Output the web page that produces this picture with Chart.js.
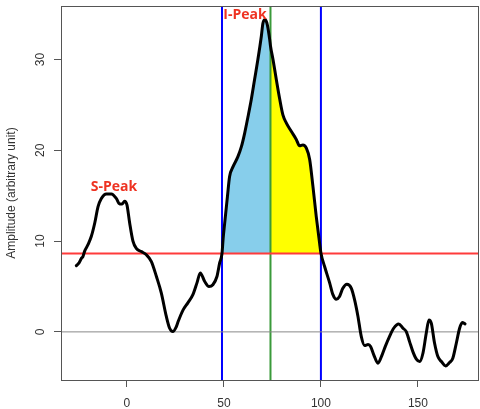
<!DOCTYPE html>
<html>
<head>
<meta charset="utf-8">
<script src="https://cdn.jsdelivr.net/npm/chart.js@4/dist/chart.umd.min.js"></script>
<style>
  html, body { margin: 0; padding: 0; background: #fff; }
  #wrap { width: 480px; height: 409px; }
</style>
</head>
<body>
<div id="wrap"><canvas id="chart" width="480" height="409"></canvas></div>
<script>
// signal trace
const curveX = [
  -26.1, -24.7, -23.5, -22.7, -21.8, -20.1, -18.4, -16.6, -14.9, -13.2,
  -10.6, -8.0, -5.5, -3.8, -2.4, -1.2, 0.0, 1.4, 3.1, 4.8,
  7.4, 10.0, 12.6, 15.2, 17.7, 20.3, 22.0, 23.7, 25.3, 26.5,
  28.9, 31.4, 34.0, 36.1, 37.8, 40.1, 42.3, 44.3, 46.4, 47.8,
  49.0, 49.6, 50.4, 51.8, 52.9, 54.7, 57.2, 59.0, 60.7, 62.4,
  64.1, 65.8, 67.5, 69.3, 70.1, 71.3, 72.4, 73.6, 74.0, 75.3,
  77.0, 78.7, 80.4, 82.2, 84.7, 87.3, 89.0, 90.7, 92.5, 94.2,
  95.9, 97.6, 99.3, 100.0, 101.9, 104.5, 106.2, 107.9, 109.6, 111.3,
  113.4, 115.7, 117.4, 119.1, 120.8, 122.5, 124.3, 125.6, 127.2, 129.4,
  131.6, 133.2, 135.4, 137.5, 140.1, 142.3, 144.0, 145.7, 147.4, 149.2,
  150.9, 152.6, 154.3, 155.7, 156.9, 158.6, 160.3, 162.1, 164.3, 166.3,
  168.0, 169.8, 171.5, 172.9, 174.3
];
const curveY = [
  7.3, 7.6, 8.1, 8.3, 8.9, 9.6, 10.5, 12.0, 13.8, 14.7,
  15.2, 15.2, 14.7, 14.1, 14.1, 14.4, 14.0, 12.0, 10.0, 9.2,
  8.85, 8.5, 7.75, 6.1, 4.3, 1.7, 0.4, 0.03, 0.5, 1.2,
  2.4, 3.2, 4.1, 5.4, 6.5, 5.55, 5.0, 5.2, 6.1, 7.6,
  8.63, 10.3, 12.0, 14.9, 17.1, 18.2, 19.3, 20.4, 21.9, 23.7,
  25.6, 27.8, 30.0, 32.6, 34.0, 34.4, 33.8, 32.2, 31.5, 30.0,
  27.8, 25.7, 23.9, 23.0, 22.1, 21.2, 20.5, 20.6, 20.25, 19.0,
  16.0, 12.7, 9.8, 8.7, 7.2, 5.4, 4.1, 3.6, 3.9, 4.8,
  5.26, 4.8, 3.5, 1.7, -0.5, -1.5, -1.4, -1.6, -2.5, -3.45,
  -2.5, -1.6, -0.5, 0.4, 0.88, 0.4, 0.03, -1.07, -2.17, -3.0,
  -3.27, -2.35, -0.15, 1.32, 0.96, -1.25, -2.72, -3.27, -3.75, -3.38,
  -2.9, -1.25, 0.4, 1.03, 0.88
];

const xTicks = [0, 50, 100, 150];
const yTicks = [0, 10, 20, 30];
const xRange = [-34, 181.5];
const yRange = [-5.3, 35.9];

const thresholdY = 8.63;
const peakStartX = 49;
const peakTopX = 74;
const peakEndX = 100;

const peakLabels = [
  { text: "S-Peak", x: -18.7, y: 16.0 },
  { text: "I-Peak", x: 49.7, y: 34.9 },
];

const points = curveX.map((x, i) => ({ x, y: curveY[i] }));
const between = (a, b) => points.filter((p) => p.x >= a && p.x <= b);

function hLine(y) {
  return [{ x: xRange[0], y }, { x: xRange[1], y }];
}
function vLine(x) {
  return [{ x, y: yRange[0] }, { x, y: yRange[1] }];
}

function lineSet(data, color, width) {
  return {
    data,
    borderColor: color,
    borderWidth: width,
    pointRadius: 0,
    fill: false,
    order: 1,
  };
}

function fillSet(data, color) {
  return {
    data,
    borderWidth: 0,
    borderColor: "rgba(0,0,0,0)",
    backgroundColor: color,
    pointRadius: 0,
    cubicInterpolationMode: "monotone",
    fill: { value: thresholdY },
    order: 2,
  };
}

const frameAndText = {
  id: "frameAndText",
  afterDraw(chart) {
    const { ctx, chartArea: a, scales } = chart;
    ctx.save();
    ctx.strokeStyle = "#555";
    ctx.lineWidth = 1;
    ctx.strokeRect(a.left + 0.5, a.top + 0.5, a.right - a.left - 1, a.bottom - a.top);

    ctx.font = '12px "Liberation Sans"';
    ctx.fillStyle = "#333";
    ctx.textAlign = "center";
    ctx.textBaseline = "middle";
    yTicks.forEach((v) => {
      const y = scales.y.getPixelForValue(v);
      ctx.save();
      ctx.translate(40.5, y);
      ctx.rotate(-Math.PI / 2);
      ctx.fillText(String(v), 0, 0);
      ctx.restore();
    });

    ctx.font = 'bold 14px "Open Sans"';
    ctx.fillStyle = "#ee3322";
    ctx.textAlign = "left";
    peakLabels.forEach((l) => {
      ctx.fillText(l.text, scales.x.getPixelForValue(l.x), scales.y.getPixelForValue(l.y));
    });
    ctx.restore();
  },
};

new Chart(document.getElementById("chart"), {
  type: "line",
  data: {
    datasets: [
      fillSet(between(peakStartX, peakTopX), "#87ceeb"),
      fillSet(between(peakTopX, peakEndX), "#ffff00"),
      lineSet(hLine(0), "#888", 1),
      lineSet(hLine(thresholdY), "#ff3b3b", 2),
      lineSet(vLine(peakStartX), "#0000ff", 2),
      lineSet(vLine(peakEndX), "#0000ff", 2),
      lineSet(vLine(peakTopX), "#3a9a3a", 2),
      {
        data: points,
        borderColor: "#000",
        borderWidth: 3,
        pointRadius: 0,
        cubicInterpolationMode: "monotone",
        borderJoinStyle: "round",
        borderCapStyle: "round",
        fill: false,
        order: 0,
      },
    ],
  },
  options: {
    responsive: false,
    animation: false,
    devicePixelRatio: 1,
    layout: { padding: { top: 6, right: 1, left: 0, bottom: 0 } },
    plugins: { legend: { display: false }, tooltip: { enabled: false } },
    scales: {
      x: {
        type: "linear",
        min: xRange[0],
        max: xRange[1],
        afterBuildTicks(scale) {
          scale.ticks = xTicks.map((value) => ({ value }));
        },
        afterFit(scale) {
          scale.height = 29;
        },
        grid: {
          drawOnChartArea: false,
          drawTicks: true,
          tickLength: 7,
          color: "#555",
        },
        border: { display: false },
        ticks: {
          color: "#333",
          padding: 9,
          maxRotation: 0,
          font: { family: "Liberation Sans", size: 12 },
        },
      },
      y: {
        type: "linear",
        min: yRange[0],
        max: yRange[1],
        afterBuildTicks(scale) {
          scale.ticks = yTicks.map((value) => ({ value }));
        },
        afterFit(scale) {
          scale.width = 61;
        },
        grid: {
          drawOnChartArea: false,
          drawTicks: true,
          tickLength: 7,
          color: "#555",
        },
        border: { display: false },
        ticks: { display: false },
        title: {
          display: true,
          text: "Amplitude (arbitrary unit)",
          color: "#333",
          padding: { top: 4, bottom: 0 },
          font: { family: "Liberation Sans", size: 12 },
        },
      },
    },
  },
  plugins: [frameAndText],
});
</script>
</body>
</html>
